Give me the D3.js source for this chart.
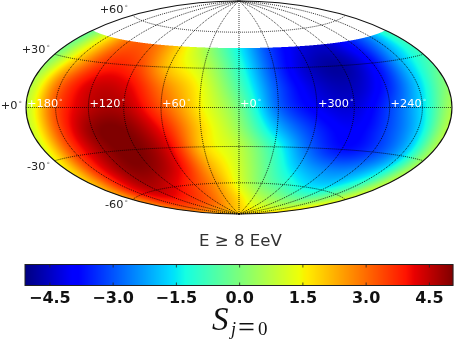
<!DOCTYPE html>
<html><head><meta charset="utf-8">
<script src="https://cdnjs.cloudflare.com/ajax/libs/d3/7.8.5/d3.min.js"></script>
<style>
html,body{margin:0;padding:0;background:#fff;width:457px;height:340px;overflow:hidden}
#wrap{position:relative;width:457px;height:340px}
canvas,svg{position:absolute;left:0;top:0}
text{font-family:"DejaVu Sans",sans-serif}
</style></head><body><div id="wrap"><canvas id="sky" width="457" height="340"></canvas><svg id="chart" width="457" height="340"></svg></div>
<script>
// Data
const lonColumns = [-180,-150,-120,-90,-60,-30,0,30,60,90,120,150,180];
const latRows = [46.5,30,15,0,-15,-30,-45,-60,-75,-90];
const rowLat45  = [-0.3,1.5,3.0,3.0,1.8,0.3,-1.4,-3.2,-4.2,-4.4,-3.6,-2.4,-0.8];
const rowLat30  = [0.0,2.0,3.6,3.5,2.0,0.9,-1.0,-3.2,-4.5,-4.8,-3.8,-2.0,-0.8];
const rowLat15  = [0.6,3.0,4.3,4.2,2.8,1.4,-0.6,-3.0,-4.3,-4.6,-3.6,-1.8,0.0];
const rowLat0   = [0.8,3.3,4.5,4.6,3.3,1.6,-0.1,-2.8,-4.0,-4.3,-3.2,-1.6,0.6];
const rowLatS15 = [1.0,3.4,4.9,5.0,3.9,1.9,0.3,-2.0,-3.4,-4.0,-3.2,-1.8,0.7];
const rowLatS30 = [1.4,3.5,4.8,5.1,4.2,1.9,0.8,-1.0,-2.8,-3.7,-3.2,-1.9,0.5];
const rowLatS45 = [2.0,3.7,4.8,4.9,4.1,2.3,1.0,-0.5,-1.9,-2.5,-2.3,-1.2,0.8];
const rowLatS60 = [2.6,3.9,4.5,4.2,3.5,2.5,1.2,0.0,-0.8,-1.4,-1.3,-0.2,1.2];
const rowLatS75 = [2.8,3.3,3.4,3.3,3.0,2.4,1.8,1.1,0.7,0.5,0.5,0.9,1.7];
const rowLatS90 = [2.0,2.0,2.0,2.0,2.0,2.0,2.0,2.0,2.0,2.0,2.0,2.0,2.0];
const skyRows = [rowLat45,rowLat30,rowLat15,rowLat0,rowLatS15,rowLatS30,rowLatS45,rowLatS60,rowLatS75,rowLatS90];
const coverageLimit = 46.5;

const lonTickPositions = [-180,-120,-60,0,60,120];
const lonTickLabels = ["+180","+120","+60","+0","+300","+240"];
const latTickValues = [60,30,0,-30,-60];
const latTickLabels = ["+60","+30","+0","-30","-60"];
const barTicks = [-4.5,-3,-1.5,0,1.5,3,4.5];
const barTickLabels = ["\u22124.5","\u22123.0","\u22121.5","0.0","1.5","3.0","4.5"];
const valueMin = -5.09, valueMax = 5.06;
const jetStops = [0,.11,.125,.34,.35,.375,.64,.65,.66,.89,.91,1];
const jetColors = ["#000080","#0000ff","#0000ff","#00dbff","#00e6f7","#15ffe2","#eeff08","#f7f500","#ffec00","#ff1300","#e80000","#800000"];

// Hammer projection built on d3.geoProjection
function hammerRaw(l,p){
  const c=Math.cos(p), d=Math.sqrt(1+c*Math.cos(l/2));
  return [2*Math.SQRT2*c*Math.sin(l/2)/d, Math.SQRT2*Math.sin(p)/d];
}
hammerRaw.invert=function(x,y){
  const z2=1-x*x/16-y*y/4, z=Math.sqrt(Math.max(0,z2));
  return [2*Math.atan2(z*x,2*(2*z2-1)), Math.asin(Math.max(-1,Math.min(1,z*y)))];
};
const cx=239, cy=107.5, sx=213/(2*Math.SQRT2);
const projection=d3.geoProjection(hammerRaw).scale(sx).translate([cx,cy]).precision(.1).clipAngle(null);
const path=d3.geoPath(projection);

const color=d3.scaleLinear().domain(jetStops.map(t=>valueMin+t*(valueMax-valueMin))).range(jetColors).interpolate(d3.interpolateRgb).clamp(true);
const lonIndex=d3.scaleLinear().domain(d3.extent(lonColumns)).range([0,lonColumns.length-1]);
const latIndex=d3.scaleLinear().domain(latRows).range(d3.range(latRows.length));

function cr(a,b,c,d,t){return b+.5*t*(c-a+t*(2*a-5*b+4*c-d+t*(3*(b-c)+d-a)));}
function sample(lon,lat){
  const fx=Math.min(lonColumns.length-1.0001,Math.max(0,lonIndex(lon))), fy=Math.min(latRows.length-1.0001,Math.max(0,latIndex(lat)));
  const i=Math.floor(fx), j=Math.floor(fy), tx=fx-i, ty=fy-j, n=lonColumns.length-1, m=latRows.length-1;
  const rowAt=r=>{const R=skyRows[Math.max(0,Math.min(m,r))];
    return cr(R[Math.max(0,i-1)],R[i],R[i+1],R[Math.min(n,i+2)],tx);};
  return cr(rowAt(j-1),rowAt(j),rowAt(j+1),rowAt(j+2),ty);
}
// Sky field
const ctx=document.getElementById("sky").getContext("2d");
const img=ctx.createImageData(457,340);
const SS=3;
for(let py=0;py<340;py++)for(let px=0;px<457;px++){
  let r=0,g=0,b=0;
  for(let a=0;a<SS;a++)for(let e=0;e<SS;e++){
    const X=(px+(a+.5)/SS-cx)/sx, Y=(cy-(py+(e+.5)/SS))/sx;
    let cr_=255,cg=255,cb=255;
    if(X*X/8+Y*Y/2<1){
      const q=hammerRaw.invert(X,Y), lon=q[0]*180/Math.PI, lat=q[1]*180/Math.PI;
      if(lat<=coverageLimit){const c=d3.rgb(color(sample(lon,lat)));cr_=c.r;cg=c.g;cb=c.b;}
    }
    r+=cr_;g+=cg;b+=cb;
  }
  const o=(py*457+px)*4,k=SS*SS;
  img.data[o]=r/k;img.data[o+1]=g/k;img.data[o+2]=b/k;img.data[o+3]=255;
}
ctx.putImageData(img,0,0);

const svg=d3.select("#chart");
// Graticule
const meridians=d3.range(-150,180,30).map(l=>({type:"LineString",coordinates:d3.range(-90,90.5,1).map(p=>[l,p])}));
const parallels=[-60,-30,0,30,60].map(p=>({type:"LineString",coordinates:d3.range(-179.9,180,1).map(l=>[l,p])}));
svg.append("g").selectAll("path").data(meridians.concat(parallels)).join("path")
  .attr("d",path).attr("fill","none").attr("stroke","#000").attr("stroke-width",.95).attr("stroke-dasharray","1 1").attr("stroke-opacity",.85);
// Outline
svg.append("ellipse").attr("cx",cx).attr("cy",cy).attr("rx",213).attr("ry",106.5).attr("fill","none").attr("stroke","#111").attr("stroke-width",1.1);

// Longitude labels
const lonG=svg.append("g").attr("fill","#fff").attr("font-size",11.3);
lonTickPositions.forEach((u,i)=>{
  const t=lonG.append("text").attr("x",Math.max(27,projection([u===-180?-179.9:u,0])[0]+1)).attr("y",107);
  t.append("tspan").text(lonTickLabels[i]);
  t.append("tspan").attr("font-size",7).attr("dy",-3).attr("dx",1).attr("fill-opacity",.7).text("\u00b0");
});
// Latitude labels
const latPos=d3.scaleOrdinal().domain(latTickValues).range([[128,13],[50,53],[22,109],[50,170],[128,208]]);
const latG=svg.append("g").attr("fill","#222").attr("font-size",11.3).attr("text-anchor","end");
latTickValues.forEach((v,i)=>{
  const p=latPos(v);
  const t=latG.append("text").attr("x",p[0]).attr("y",p[1]);
  t.append("tspan").text(latTickLabels[i]);
  t.append("tspan").attr("font-size",7).attr("dy",-3).attr("dx",1).attr("fill","#777").text("\u00b0");
});
// Title
svg.append("text").attr("x",240.5).attr("y",245.5).attr("text-anchor","middle").attr("font-size",16.6).attr("fill","#333").text("E \u2265 8 EeV");

// Colorbar
const barX=d3.scaleLinear().domain([valueMin,valueMax]).range([25,453]);
const barTop=264.5, barH=21;
svg.append("g").selectAll("rect").data(d3.range(25,453)).join("rect")
  .attr("x",d=>d).attr("y",barTop).attr("width",1.2).attr("height",barH)
  .attr("fill",d=>color(barX.invert(d+.5)));
svg.append("rect").attr("x",25).attr("y",barTop).attr("width",428).attr("height",barH).attr("fill","none").attr("stroke","#222").attr("stroke-width",1);
const barTickG=svg.append("g").attr("stroke","#222").attr("stroke-width",.8);
barTicks.forEach(v=>{
  barTickG.append("line").attr("x1",barX(v)).attr("x2",barX(v)).attr("y1",barTop).attr("y2",barTop+3);
  barTickG.append("line").attr("x1",barX(v)).attr("x2",barX(v)).attr("y1",barTop+barH-3).attr("y2",barTop+barH);
});
svg.append("g").attr("font-size",16).attr("font-weight","bold").attr("text-anchor","middle").attr("fill","#111")
  .selectAll("text").data(barTicks).join("text").attr("x",d=>barX(d)).attr("y",302.5).text((d,i)=>barTickLabels[i]);
// Colorbar label
const lab=svg.append("g").attr("fill","#111");
lab.append("text").attr("x",212).attr("y",330).attr("font-size",33).attr("font-style","italic").attr("style","font-family:'Liberation Serif'").text("S");
lab.append("text").attr("x",231).attr("y",335).attr("font-size",18).attr("font-style","italic").attr("style","font-family:'Liberation Serif'").text("j");
lab.append("text").attr("x",238).attr("y",337).attr("font-size",30).attr("style","font-family:'Liberation Serif'").text("=");
lab.append("text").attr("x",258).attr("y",335).attr("font-size",19).attr("style","font-family:'Liberation Serif'").text("0");
</script></body></html>
